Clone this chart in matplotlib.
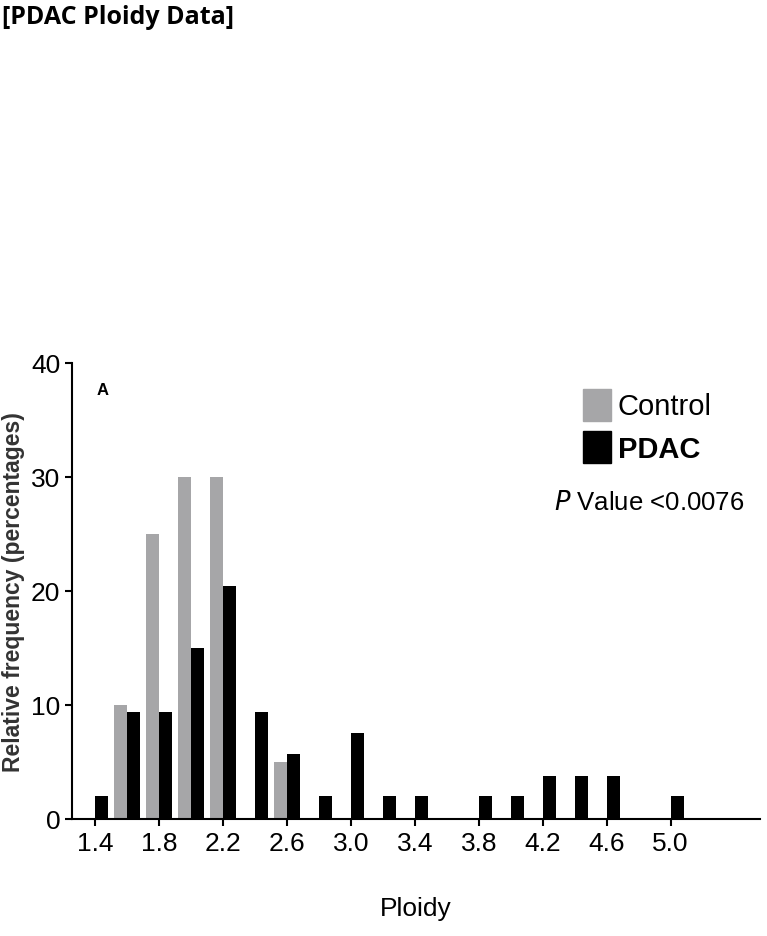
import matplotlib
matplotlib.use("Agg")
import matplotlib.pyplot as plt
from matplotlib.patches import Rectangle

ctrl_x = [1.6, 1.8, 2.0, 2.2, 2.6]
ctrl_y = [10, 25, 30, 30, 5]
pdac_x = [1.4, 1.6, 1.8, 2.0, 2.2, 2.4, 2.6, 2.8, 3.0, 3.2, 3.4, 3.8, 4.0, 4.2, 4.4, 4.6, 5.0]
pdac_y = [2, 9.4, 9.4, 15, 20.4, 9.4, 5.7, 2, 7.5, 2, 2, 2, 2, 3.8, 3.8, 3.8, 2]
xticks = [1.4, 1.8, 2.2, 2.6, 3.0, 3.4, 3.8, 4.2, 4.6, 5.0]
yticks = [0, 10, 20, 30, 40]

plt.rcParams["font.family"] = "Liberation Sans"
fig = plt.figure(figsize=(7.67, 9.37), dpi=100)
ax = fig.add_axes([0.094, 0.125, 0.897, 0.487])
w = 0.082
ax.bar([x - w/2 for x in ctrl_x], ctrl_y, width=w, color="#a6a6a8")
ax.bar([x + w/2 for x in pdac_x], pdac_y, width=w, color="black")
ax.set_xlim(1.256, 5.56)
ax.set_ylim(0, 40)
ax.set_xticks(xticks)
ax.set_xticklabels([f"{t:.1f}" for t in xticks])
ax.set_yticks(yticks)
ax.tick_params(labelsize=19, width=1.5, length=5)
for s in ["top", "right"]:
    ax.spines[s].set_visible(False)
for s in ["left", "bottom"]:
    ax.spines[s].set_linewidth(1.5)
ax.set_xlabel("Ploidy", fontsize=19, labelpad=30)
ax.set_ylabel("Relative frequency (percentages)", fontsize=16.5, fontweight="bold", color="#333333")
ax.text(0.035, 0.94, "A", transform=ax.transAxes, fontsize=12, fontweight="bold", va="center")
ax.add_patch(Rectangle((0.743, 0.873), 0.04, 0.07, transform=ax.transAxes, color="#a6a6a8", clip_on=False))
ax.add_patch(Rectangle((0.743, 0.78), 0.04, 0.07, transform=ax.transAxes, color="black", clip_on=False))
ax.text(0.793, 0.905, "Control", transform=ax.transAxes, fontsize=21, va="center")
ax.text(0.793, 0.81, "PDAC", transform=ax.transAxes, fontsize=21, fontweight="bold", va="center")
ax.text(0.7, 0.695, "$P$ Value <0.0076", transform=ax.transAxes, fontsize=18.5, va="center")
fig.text(0.003, 0.981, "[PDAC Ploidy Data]", fontsize=18, fontweight="bold", family="Open Sans", va="center")
fig.savefig("out.png", dpi=100)
